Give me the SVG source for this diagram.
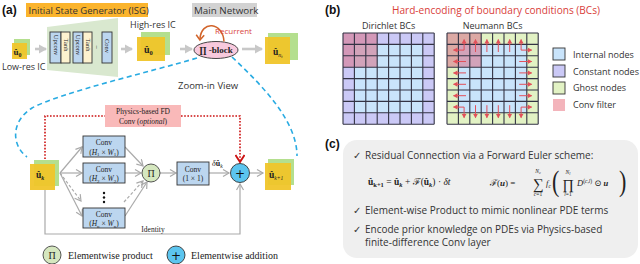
<svg xmlns="http://www.w3.org/2000/svg" width="640" height="264" viewBox="0 0 640 264">
<style>
.sans{font-family:"Open Sans","Liberation Sans",sans-serif;fill:#333}
.serif{font-family:"Liberation Serif","DejaVu Serif",serif;fill:#222}
.lbl{font-family:"Liberation Sans",Arial,sans-serif;font-weight:bold;font-size:12px;fill:#111}
.g{fill:#b4df8e}
.y{fill:#f0c52a;opacity:0.95}
.thick{stroke:#c8c8c8;stroke-width:2.6;fill:none}
.thin{stroke:#aaa;stroke-width:1.2;fill:none}
.dash{stroke:#aaa;stroke-width:1.2;fill:none;stroke-dasharray:3,2}
.box{fill:#bcd6ef;stroke:#333;stroke-width:0.9}
.grid{stroke:#333344;stroke-width:1.1;fill:none}
.rarr{stroke:#e2505a;stroke-width:1;fill:none}
.bd{stroke:#29abe2;stroke-width:1.6;fill:none;stroke-dasharray:5,3.5}
</style>
<defs>
<marker id="mThick" markerUnits="userSpaceOnUse" markerWidth="10" markerHeight="10" refX="7" refY="5" orient="auto"><path d="M0,0.5 L8,5 L0,9.5 Z" fill="#c8c8c8"/></marker>
<marker id="mThin" markerUnits="userSpaceOnUse" markerWidth="10" markerHeight="10" refX="7" refY="4" orient="auto"><path d="M1,0.5 L7,4 L1,7.5" fill="none" stroke="#aaa" stroke-width="1.2"/></marker>
<marker id="mRed" markerUnits="userSpaceOnUse" markerWidth="10" markerHeight="10" refX="5" refY="8" orient="0"><path d="M0.5,1 L5,8 L9.5,1" fill="none" stroke="#cc1111" stroke-width="1.8"/></marker>
<marker id="mRec" markerUnits="userSpaceOnUse" markerWidth="10" markerHeight="10" refX="5" refY="5" orient="auto"><path d="M1,1 L6,5 L1,9" fill="none" stroke="#d2642a" stroke-width="1.5"/></marker>
<marker id="mR" markerUnits="userSpaceOnUse" markerWidth="6" markerHeight="6" refX="4" refY="3" orient="auto-start-reverse"><path d="M0,0.5 L4.5,3 L0,5.5 Z" fill="#e2505a"/></marker>
</defs>

<!-- Panel (a) header -->
<text class="lbl" x="2" y="14">(a)</text>
<rect x="26" y="3" width="122" height="14" fill="#fbb42c"/>
<text class="sans" x="28.5" y="14" font-size="9.5">Initial State Generator (ISG)</text>
<rect x="192" y="3" width="65" height="14" fill="#d2d2d2"/>
<text class="sans" x="194" y="14" font-size="9.8">Main Network</text>

<g id="lowres">
<rect class="g" x="14" y="39" width="16" height="16"/>
<rect class="y" x="12" y="43" width="15" height="16"/>
<text class="serif" x="13.5" y="55" font-size="9" font-weight="bold">û<tspan font-size="6" dy="1.5">0</tspan></text>
<text class="sans" x="2" y="70" font-size="9">Low-res IC</text>
</g>

<g id="isg">
<polygon points="47,27 118,18 118,77 47,70" fill="#d9e8cf"/>
<rect class="box" x="50" y="32" width="11" height="31"/>
<rect x="61" y="32" width="9" height="31" fill="#fdf2cf" stroke="#333" stroke-width="0.9"/>
<rect class="box" x="73" y="32" width="10" height="31"/>
<rect x="83" y="32" width="9" height="31" fill="#fdf2cf" stroke="#333" stroke-width="0.9"/>
<rect class="box" x="102" y="32" width="10" height="31"/>
<g class="serif" font-size="6.5" text-anchor="middle">
<text transform="translate(53.6,45) rotate(90)">Upconv</text>
<text transform="translate(63.6,45) rotate(90)">Tanh</text>
<text transform="translate(76,45) rotate(90)">Upconv</text>
<text transform="translate(85.6,45) rotate(90)">Tanh</text>
<text transform="translate(95.2,47) rotate(90)">–</text>
<text transform="translate(104.8,46) rotate(90)">Conv</text>
</g>
</g>

<g id="highres">
<text class="sans" x="130" y="27.5" font-size="9">High-res IC</text>
<rect class="g" x="141" y="32" width="29" height="23"/>
<rect class="y" x="137" y="37" width="28" height="24"/>
<text class="serif" x="144" y="53" font-size="10" font-weight="bold">û<tspan font-size="6.5" dy="1.5">0</tspan></text>
</g>

<g id="piblock">
<ellipse cx="216" cy="50" rx="22" ry="8.5" fill="#f8c9dd" stroke="#333" stroke-width="0.9"/>
<text class="serif" x="216" y="53" font-size="9" font-weight="bold" text-anchor="middle">∏ -block</text>
<path d="M224,41.5 C223,22 201,20 200,39" stroke="#d2642a" stroke-width="1.5" fill="none" marker-end="url(#mRec)"/>
<text x="215" y="33.5" font-family="'Open Sans','Liberation Sans',sans-serif" font-size="8" fill="#d9453d">Recurrent</text>
</g>

<g id="output">
<rect class="g" x="268" y="33" width="30" height="27"/>
<rect class="y" x="265" y="37" width="25" height="27"/>
<text class="serif" x="273" y="55" font-size="9.5" font-weight="bold">û<tspan font-size="6" dy="1.5" font-weight="normal" font-style="italic">n<tspan font-size="4.5" dy="1">t</tspan></tspan></text>
</g>

<text class="sans" x="178" y="89" font-size="9.5">Zoom-in View</text>

<g id="connectors">
<path class="thick" d="M35,49 L46,49" marker-end="url(#mThick)"/>
<path class="thick" d="M121,49 L132,49" marker-end="url(#mThick)"/>
<path class="thick" d="M180,49 L192,49" marker-end="url(#mThick)"/>
<path class="thick" d="M242,49 L262,49" marker-end="url(#mThick)"/>
<path class="bd" d="M197,58 C150,72 62,92 32,108 C10,122 12,146 27,157"/>
<path class="bd" d="M232,57 C265,88 297,122 297,156"/>
<path d="M45,159 L45,116 L105,116" stroke="#cc1111" stroke-width="1.6" fill="none" stroke-dasharray="1.6,1.6"/>
<path d="M181,116 L240,116 L240,162" stroke="#cc1111" stroke-width="1.6" fill="none" stroke-dasharray="1.6,1.6" marker-end="url(#mRed)"/>
<path class="thin" d="M60,173 L82,147" marker-end="url(#mThin)"/>
<path class="thin" d="M60,173 L82,173" marker-end="url(#mThin)"/>
<path class="dash" d="M60,173 L81,201" marker-end="url(#mThin)"/>
<path class="thin" d="M60,173 L82,216" marker-end="url(#mThin)"/>
<path class="thin" d="M125,147 L143,166" marker-end="url(#mThin)"/>
<path class="thin" d="M125,173 L141,173" marker-end="url(#mThin)"/>
<path class="dash" d="M124,202 L143,181" marker-end="url(#mThin)"/>
<path class="thin" d="M125,216 L147,182" marker-end="url(#mThin)"/>
<path class="thin" d="M160,173 L176,173" marker-end="url(#mThin)"/>
<path class="thin" d="M209,173 L229,173" marker-end="url(#mThin)"/>
<path class="thin" d="M250,173 L263,173" marker-end="url(#mThin)"/>
<path class="thin" d="M45,190 L45,234 L240,234 L240,184" marker-end="url(#mThin)"/>
</g>

<g id="physfd">
<rect x="105" y="105" width="76" height="22" fill="#f9b9b9"/>
<text class="serif" x="143" y="114" font-size="7.5" text-anchor="middle">Physics-based FD</text>
<text class="serif" x="143" y="123.5" font-size="7.5" text-anchor="middle">Conv (<tspan font-style="italic">optional</tspan>)</text>
</g>

<g id="uk">
<rect class="g" x="34" y="160" width="25" height="26"/>
<rect class="y" x="30" y="164" width="25" height="26"/>
<text class="serif" x="36" y="178" font-size="9.5" font-weight="bold">û<tspan font-size="6" dy="1.5" font-style="italic">k</tspan></text>
</g>

<g id="conv1">
<rect class="box" x="83" y="136" width="42" height="21"/>
<text class="serif" x="104" y="145" font-size="7.5" text-anchor="middle">Conv</text>
<text class="serif" x="104" y="154.5" font-size="7.5" text-anchor="middle">(<tspan font-style="italic">H</tspan><tspan font-size="5" dy="1.5">1</tspan><tspan dy="-1.5"> × </tspan><tspan font-style="italic">W</tspan><tspan font-size="5" dy="1.5">1</tspan><tspan dy="-1.5">)</tspan></text>
</g>
<g id="conv2">
<rect class="box" x="83" y="163" width="42" height="20"/>
<text class="serif" x="104" y="171.5" font-size="7.5" text-anchor="middle">Conv</text>
<text class="serif" x="104" y="181" font-size="7.5" text-anchor="middle">(<tspan font-style="italic">H</tspan><tspan font-size="5" dy="1.5">2</tspan><tspan dy="-1.5"> × </tspan><tspan font-style="italic">W</tspan><tspan font-size="5" dy="1.5">2</tspan><tspan dy="-1.5">)</tspan></text>
</g>
<g id="dots" fill="#111">
<circle cx="104" cy="193" r="1.2"/><circle cx="104" cy="197.5" r="1.2"/><circle cx="104" cy="202" r="1.2"/>
</g>
<g id="convn">
<rect class="box" x="83" y="208" width="42" height="20"/>
<text class="serif" x="104" y="216.5" font-size="7.5" text-anchor="middle">Conv</text>
<text class="serif" x="104" y="226" font-size="7.5" text-anchor="middle">(<tspan font-style="italic">H</tspan><tspan font-size="5" dy="1.5">n</tspan><tspan dy="-1.5"> × </tspan><tspan font-style="italic">W</tspan><tspan font-size="5" dy="1.5">n</tspan><tspan dy="-1.5">)</tspan></text>
</g>

<g id="prod">
<circle cx="151" cy="173" r="9" fill="#d5e7bf" stroke="#444" stroke-width="0.9"/>
<text class="serif" x="151" y="177" font-size="10" text-anchor="middle">Π</text>
</g>
<g id="conv11">
<rect class="box" x="177" y="162" width="32" height="23"/>
<text class="serif" x="193" y="171.5" font-size="7.5" text-anchor="middle">Conv</text>
<text class="serif" x="193" y="181" font-size="7.5" text-anchor="middle">(1 × 1)</text>
</g>
<text class="serif" x="212" y="166" font-size="8"><tspan font-style="italic">δ</tspan><tspan font-weight="bold">û</tspan><tspan font-size="5.5" dy="1.5" font-style="italic">k</tspan></text>
<g id="add">
<circle cx="240" cy="173" r="9.5" fill="#5cc5ef" stroke="#333" stroke-width="0.9"/>
<text x="240" y="177.5" font-family="'DejaVu Sans',sans-serif" font-size="12" text-anchor="middle" fill="#111">+</text>
</g>
<g id="uk1">
<rect class="g" x="268" y="159" width="26" height="26"/>
<rect class="y" x="265" y="163" width="26" height="27"/>
<text class="serif" x="269" y="178" font-size="9.5" font-weight="bold">û<tspan font-size="5.5" dy="1.5" font-style="italic" font-weight="normal">k+1</tspan></text>
</g>
<text class="serif" x="153" y="231.5" font-size="7.5" text-anchor="middle">Identity</text>

<g id="legend-a">
<circle cx="52" cy="255" r="9" fill="#d5e7bf" stroke="#444" stroke-width="0.9"/>
<text class="serif" x="52" y="259" font-size="10" text-anchor="middle">Π</text>
<text class="serif" x="68" y="258.5" font-size="10">Elementwise product</text>
<circle cx="176" cy="255" r="9" fill="#5cc5ef" stroke="#333" stroke-width="0.9"/>
<text x="176" y="259.5" font-family="'DejaVu Sans',sans-serif" font-size="12" text-anchor="middle" fill="#111">+</text>
<text class="serif" x="191" y="258.5" font-size="10">Elementwise addition</text>
</g>

<!-- Panel (b) -->
<text class="lbl" x="325" y="14">(b)</text>
<text x="392" y="14" font-family="'Open Sans','Liberation Sans',sans-serif" font-size="10.1" fill="#d9403a">Hard-encoding of boundary conditions (BCs)</text>

<g id="dirichlet">
<text class="sans" x="388.6" y="28.5" font-size="9" text-anchor="middle">Dirichlet BCs</text>
<rect x="343" y="33" width="91.2" height="91.2" fill="#cbc9f6"/>
<rect x="354.4" y="44.4" width="68.4" height="68.4" fill="#c9e4fb"/>
<rect x="343" y="33" width="34.2" height="34.2" fill="#d8788f" opacity="0.6"/>
<path class="grid" d="M343,33V124.2M354.4,33V124.2M365.8,33V124.2M377.2,33V124.2M388.6,33V124.2M400,33V124.2M411.4,33V124.2M422.8,33V124.2M434.2,33V124.2M343,33H434.2M343,44.4H434.2M343,55.8H434.2M343,67.2H434.2M343,78.6H434.2M343,90H434.2M343,101.4H434.2M343,112.8H434.2M343,124.2H434.2"/>
</g>

<g id="neumann">
<text class="sans" x="492.6" y="28.5" font-size="9" text-anchor="middle">Neumann BCs</text>
<rect x="447" y="33" width="91.2" height="91.2" fill="#e2f2c4"/>
<rect x="458.4" y="44.4" width="68.4" height="68.4" fill="#c9e4fb"/>
<rect x="447" y="33" width="34.2" height="34.2" fill="#d8788f" opacity="0.6"/>
<path class="grid" d="M447,33V124.2M458.4,33V124.2M469.8,33V124.2M481.2,33V124.2M492.6,33V124.2M504,33V124.2M515.4,33V124.2M526.8,33V124.2M538.2,33V124.2M447,33H538.2M447,44.4H538.2M447,55.8H538.2M447,67.2H538.2M447,78.6H538.2M447,90H538.2M447,101.4H538.2M447,112.8H538.2M447,124.2H538.2"/>
<g class="rarr" marker-end="url(#mR)">
<path d="M475.5,52V39.5"/><path d="M486.9,52V39.5"/><path d="M498.3,52V39.5"/><path d="M509.7,52V39.5"/>
<path d="M475.5,105.2V117.7"/><path d="M486.9,105.2V117.7"/><path d="M498.3,105.2V117.7"/><path d="M509.7,105.2V117.7"/>
<path d="M466,61.5H453.5"/><path d="M466,72.9H453.5"/><path d="M466,84.3H453.5"/><path d="M466,95.7H453.5"/>
<path d="M519.2,61.5H531.7"/><path d="M519.2,72.9H531.7"/><path d="M519.2,84.3H531.7"/><path d="M519.2,95.7H531.7"/>
<path d="M464.1,39.5V50.1H453.5" marker-start="url(#mR)"/>
<path d="M521.1,39.5V50.1H531.7" marker-start="url(#mR)"/>
<path d="M453.5,107.1H464.1V117.7" marker-start="url(#mR)"/>
<path d="M531.7,107.1H521.1V117.7" marker-start="url(#mR)"/>
</g>
</g>

<g id="legend-b">
<rect x="553" y="48" width="12" height="12" fill="#c9e4fb" stroke="#333" stroke-width="0.9"/>
<text class="sans" x="573" y="57.5" font-size="9">Internal nodes</text>
<rect x="553" y="65" width="12" height="12" fill="#cbc9f6" stroke="#333" stroke-width="0.9"/>
<text class="sans" x="573" y="74.5" font-size="9">Constant nodes</text>
<rect x="553" y="82" width="12" height="12" fill="#e2f2c4" stroke="#333" stroke-width="0.9"/>
<text class="sans" x="573" y="91" font-size="9">Ghost nodes</text>
<rect x="553" y="99" width="12" height="12" fill="#f3b4bb"/>
<text class="sans" x="573" y="108" font-size="9">Conv filter</text>
</g>

<!-- Panel (c) -->
<text class="lbl" x="325" y="148">(c)</text>
<g id="panel-c">
<rect x="343" y="140" width="295" height="118" rx="14" fill="#efefef"/>
<text class="sans" x="353" y="159" font-size="10">✓ <tspan x="365">Residual Connection via a Forward Euler scheme:</tspan></text>
<text class="serif" x="368" y="185" font-size="9.5"><tspan font-weight="bold">û<tspan font-size="6.5" dy="1.5">k+1</tspan></tspan><tspan dy="-1.5"> = </tspan><tspan font-weight="bold">û</tspan><tspan font-size="6.5" dy="1.5" font-style="italic" font-weight="bold">k</tspan><tspan dy="-1.5"> + ℱ(</tspan><tspan font-weight="bold">û</tspan><tspan font-size="6.5" dy="1.5" font-style="italic" font-weight="bold">k</tspan><tspan dy="-1.5">) · </tspan><tspan font-style="italic">δt</tspan></text>
<text class="serif" x="490" y="186" font-size="9">ℱ(<tspan font-weight="bold" font-style="italic">u</tspan>) =</text>
<text class="serif" x="538" y="189" font-size="15" text-anchor="middle">∑</text>
<text class="serif" x="538" y="173" font-size="5.5" text-anchor="middle" font-style="italic">N<tspan font-size="4" dy="1">c</tspan></text>
<text class="serif" x="538" y="196" font-size="5.5" text-anchor="middle"><tspan font-style="italic">c</tspan>=1</text>
<text class="serif" x="546" y="186" font-size="8.5" font-style="italic">f<tspan font-size="5.5" dy="1.5">c</tspan></text>
<text class="serif" x="552" y="191" font-size="22" transform="translate(552,191) scale(1,1.3) translate(-552,-191)">(</text>
<text class="serif" x="568" y="189" font-size="14" text-anchor="middle">∏</text>
<text class="serif" x="568" y="174" font-size="5.5" text-anchor="middle" font-style="italic">N<tspan font-size="4" dy="1">l</tspan></text>
<text class="serif" x="568" y="196" font-size="5.5" text-anchor="middle"><tspan font-style="italic">l</tspan>=1</text>
<text class="serif" x="577" y="186" font-size="8.5" font-style="italic">D<tspan font-size="5.5" dy="-3" font-style="normal">(<tspan font-style="italic">c</tspan>,<tspan font-style="italic">l</tspan>)</tspan><tspan dy="3" font-style="normal"> ⊙ </tspan><tspan font-weight="bold">u</tspan></text>
<text class="serif" x="619" y="191" font-size="22" transform="translate(619,191) scale(1,1.3) translate(-619,-191)">)</text>
<text class="sans" x="353" y="214" font-size="10">✓ <tspan x="365">Element-wise Product to mimic nonlinear PDE terms</tspan></text>
<text class="sans" x="353" y="233" font-size="10">✓ <tspan x="365">Encode prior knowledge on PDEs via Physics-based</tspan></text>
<text class="sans" x="365" y="246" font-size="10">finite-difference Conv layer</text>
</g>
</svg>
